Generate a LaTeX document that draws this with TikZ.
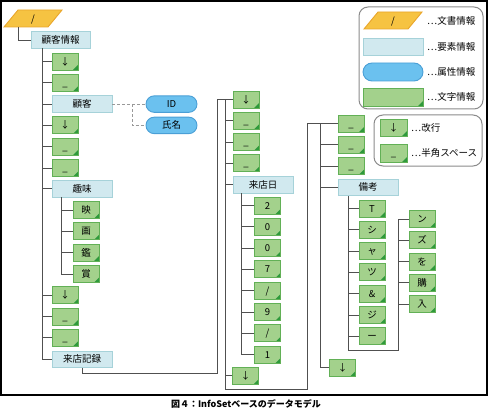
\documentclass[tikz,border=0pt]{standalone}
\usepackage{fontspec}
\setmainfont{Noto Sans CJK JP}
\usetikzlibrary{shapes.misc}
\definecolor{gfill}{HTML}{A3D18C}
\definecolor{gline}{HTML}{62B056}
\definecolor{gcorner}{HTML}{2E9A3C}
\definecolor{efill}{HTML}{D1E9EF}
\definecolor{eline}{HTML}{A6D2D9}
\definecolor{afill}{HTML}{6BC1EF}
\definecolor{aline}{HTML}{4A9FD6}
\definecolor{dfill}{HTML}{F6C342}
\definecolor{dline}{HTML}{E9A52A}
\definecolor{conn}{HTML}{505050}
\definecolor{legline}{HTML}{8A8A8A}
\begin{document}
\begin{tikzpicture}[x=1pt,y=-1pt,
  every node/.style={font=\fontsize{9.5}{10}\selectfont, inner sep=0pt, text height=8.3pt, text depth=1.2pt},
  chrbox/.style={draw=gline, fill=gfill, line width=0.9pt, minimum width=26pt, minimum height=17pt,
    path picture={\fill[gcorner] (path picture bounding box.south east) -- ++(-5pt,0pt) -- ++(5pt,5pt) -- cycle;}},
  elembox/.style={draw=eline, fill=efill, line width=0.9pt, minimum width=60pt, minimum height=16.5pt},
  attrbox/.style={rounded rectangle, draw=aline, fill=afill, line width=0.9pt, minimum width=51pt, minimum height=16.5pt},
  docshape/.style={draw=dline, fill=dfill, line width=0.9pt},
  tree/.style={draw=conn, line width=0.9pt},
  attrline/.style={draw=gray!80, line width=0.9pt, densely dashed},
  legbox/.style={draw=legline, line width=1pt, rounded corners=9pt},
  legtext/.style={anchor=west},
]
\useasboundingbox (0,0) rectangle (489,414);
\draw[line width=2.2pt] (1.2,1.2) rectangle (486.8,394.6);

% document node
\path[docshape] (4,27) -- (48,27) -- (62,10) -- (18,10) -- cycle;
\node (doc) at (33,18.5) {/};
\node[elembox, minimum width=59pt] (kj) at (60.5,40) {顧客情報};
\draw[tree] ([xshift=-15pt,yshift=-8.5pt]doc.center) |- (kj.west);

% column 1
\node[chrbox] (a1) at (65,61.5) {↓};
\node[chrbox] (a2) at (65,82.8) {\_};
\node[elembox] (a3) at (82,104.1) {顧客};
\node[chrbox] (a4) at (65,125.4) {↓};
\node[chrbox] (a5) at (65,146.7) {\_};
\node[chrbox] (a6) at (65,168) {\_};
\node[elembox] (a7) at (82,188.8) {趣味};
\node[chrbox] (h1) at (86,210.1) {映};
\node[chrbox] (h2) at (86,231.4) {画};
\node[chrbox] (h3) at (86,252.7) {鑑};
\node[chrbox] (h4) at (86,274) {賞};
\node[chrbox] (a8) at (65,295.3) {↓};
\node[chrbox] (a9) at (65,316.6) {\_};
\node[chrbox] (a10) at (65,337.9) {\_};
\node[elembox] (a11) at (82,359.2) {来店記録};

\coordinate (t1) at (42,48);
\draw[tree] (t1) -- (a11.west -| t1);
\foreach \n in {a1,a2,a3,a4,a5,a6,a7,a8,a9,a10,a11} \draw[tree] (\n.west) -- (\n.west -| t1);
\coordinate (th) at (61,197);
\draw[tree] (th) -- (h4.west -| th);
\foreach \n in {h1,h2,h3,h4} \draw[tree] (\n.west) -- (\n.west -| th);

% attributes
\node[attrbox] (id) at (171.5,104.1) {ID};
\node[attrbox] (nm) at (171.5,125.4) {氏名};
\draw[attrline] (a3.east) -- (id.west);
\coordinate (ab) at (132,104.1);
\draw[attrline] (ab) |- (nm.west);

% column 2
\node[chrbox] (b1) at (246,99.5) {↓};
\node[chrbox] (b2) at (246,120.8) {\_};
\node[chrbox] (b3) at (246,142.1) {\_};
\node[chrbox] (b4) at (246,163.4) {\_};
\node[elembox] (b5) at (263,184.7) {来店日};
\node[chrbox] (d1) at (267.5,205.5) {2};
\node[chrbox] (d2) at (267.5,226.8) {0};
\node[chrbox] (d3) at (267.5,248.1) {0};
\node[chrbox] (d4) at (267.5,269.4) {7};
\node[chrbox] (d5) at (267.5,290.7) {/};
\node[chrbox] (d6) at (267.5,312) {9};
\node[chrbox] (d7) at (267.5,333.3) {/};
\node[chrbox] (d8) at (267.5,354.6) {1};
\node[chrbox] (b6) at (245.5,375.9) {↓};

% column 3
\node[chrbox] (c1) at (351,123.5) {\_};
\node[chrbox] (c2) at (351,144.8) {\_};
\node[chrbox] (c3) at (351,166.1) {\_};
\node[elembox] (c4) at (368,187.4) {備考};
\node[chrbox] (c5) at (342.5,367.5) {↓};

\coordinate (t2) at (217,373);
\draw[tree] (a11.south) |- (t2) |- (b1.west);
\coordinate (t3) at (225,389);
\coordinate (t4) at (307,389);
\draw[tree] (b1.west -| t3) -- (t3) -- (t4) |- (c1.west);
\foreach \n in {b2,b3,b4,b5,b6} \draw[tree] (\n.west) -- (\n.west -| t3);
\coordinate (td) at (241,193);
\draw[tree] (td) -- (d8.west -| td);
\foreach \n in {d1,d2,d3,d4,d5,d6,d7,d8} \draw[tree] (\n.west) -- (\n.west -| td);

\coordinate (tc) at (320,123.5);
\draw[tree] (tc) -- (c5.west -| tc);
\foreach \n in {c2,c3,c4,c5} \draw[tree] (\n.west) -- (\n.west -| tc);

\node[chrbox] (e1) at (372,208.5) {T};
\node[chrbox] (e2) at (372,229.8) {シ};
\node[chrbox] (e3) at (372,251.1) {ャ};
\node[chrbox] (e4) at (372,272.4) {ツ};
\node[chrbox] (e5) at (372,293.7) {\&};
\node[chrbox] (e6) at (372,315) {ジ};
\node[chrbox] (e7) at (372,336.3) {ー};
\node[chrbox] (f1) at (422,219) {ン};
\node[chrbox] (f2) at (422,240.3) {ズ};
\node[chrbox] (f3) at (422,261.6) {を};
\node[chrbox] (f4) at (422,282.9) {購};
\node[chrbox] (f5) at (422,304.2) {入};
\coordinate (te) at (348,196);
\coordinate (te2) at (348,350);
\coordinate (tf) at (398,350);
\draw[tree] (te) -- (te2) -- (tf) |- (f1.west);
\foreach \n in {e1,e2,e3,e4,e5,e6,e7} \draw[tree] (\n.west) -- (\n.west -| te);
\foreach \n in {f2,f3,f4,f5} \draw[tree] (\n.west) -- (\n.west -| tf);

% legend 1
\draw[legbox] (359,7) rectangle (483,109);
\path[docshape] (364,29) -- (408,29) -- (422,12) -- (378,12) -- cycle;
\node (lg1) at (393,20.5) {/};
\node[elembox, minimum height=17pt] (lg2) at (393,46.5) {};
\node[attrbox, minimum width=60pt, minimum height=18pt] (lg3) at (393,72) {};
\node[chrbox, minimum width=60pt, minimum height=18pt] (lg4) at (393,97) {};
\node[legtext] (lt1) at (427,20.5) {…文書情報};
\node[legtext] (lt2) at (427,46.5) {…要素情報};
\node[legtext] (lt3) at (427,72) {…属性情報};
\node[legtext] (lt4) at (427,97) {…文字情報};

% legend 2
\draw[legbox] (374,115) rectangle (482,166);
\node[chrbox, minimum width=27pt] (lg5) at (393.5,127.5) {↓};
\node[chrbox, minimum width=27pt, minimum height=18pt] (lg6) at (393.5,153) {\_};
\node[legtext] (lt5) at (411,127.5) {…改行};
\node[legtext] (lt6) at (411,153) {…半角スペース};

% caption
\node[font=\fontsize{9}{10}\selectfont\bfseries] (cap) at (246,404) {図４：InfoSetベースのデータモデル};
\end{tikzpicture}
\end{document}
